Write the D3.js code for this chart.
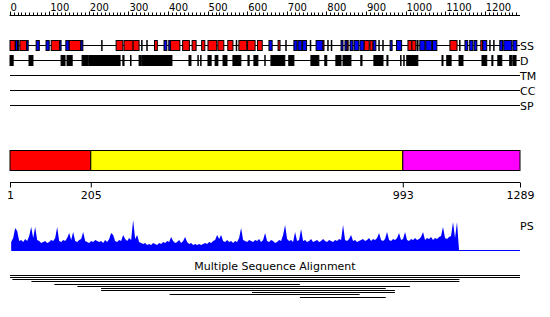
<!DOCTYPE html>
<html>
<head>
<meta charset="utf-8">
<script src="https://cdn.jsdelivr.net/npm/d3@7"></script>
<style>
  body { margin: 0; background: #fff; }
  text { font-family: "DejaVu Sans", sans-serif; fill: #000; }
</style>
</head>
<body>
<div id="chart"></div>
<script>
// sequence length and ruler labels
var seqLen = 1289;
var rulerLabels = [0, 100, 200, 300, 400, 500, 600, 700, 800, 900, 1000, 1100, 1200];

// secondary structure (residue ranges)
var ssHelix = [[1,14],[20,23],[26,43],[105,126],[150,180],[269,286],[289,312],[312,327],[366,373],
  [406,430],[437,454],[461,471],[485,493],[501,523],[526,541],[551,564],[579,599],[601,620],[626,638],
  [678,683],[791,794],[852,855],[895,908],[910,918],[1006,1016],[1016,1026],[1112,1130],[1190,1195]];
var ssStrand = [[15,20],[43,47],[67,75],[92,100],[126,130],[142,150],[180,185],[390,397],[402,406],
  [655,663],[718,726],[728,738],[740,750],[774,791],[837,842],[847,852],[860,867],[870,882],[885,895],
  [918,925],[961,966],[977,990],[1029,1031],[1036,1049],[1051,1066],[1068,1079],[1150,1157],[1162,1170],
  [1173,1180],[1195,1205],[1238,1245],[1248,1268],[1271,1281]];
var ssTicks = [233, 334, 347, 573, 698, 760, 804, 813, 933, 943, 1137, 1213, 1223];

// disorder
var disorder = [[1,9],[49,59],[130,135],[136,140],[145,158],[183,198],[200,279],[286,289],[327,332],
  [334,410],[453,458],[501,509],[519,526],[539,549],[564,584],[602,605],[617,627],[660,695],[705,718],
  [761,781],[796,801],[824,837],[842,862],[887,890],[920,943],[953,955],[1003,1031],[1092,1094],
  [1104,1115],[1135,1145],[1193,1205],[1218,1220],[1233,1243],[1263,1268],[1271,1279]];
var disorderTicks = [306, 476, 483, 645, 988, 996];

var trackNames = ["SS", "D", "TM", "CC", "SP"];

// domains
var domainStart = [1, 205, 993];
var domainEnd = [205, 993, 1289];
var domainTicks = [1, 205, 993, 1289];
var domainColors = ["#ff0000", "#ffff00", "#ff00ff"];

// PS profile, residues psFrom..psTo
var psFrom = 4, psTo = 1135;
var psValues = [8,12,22,19,9,10,8,11,9,14,23,12,23,10,9,7,8,9,7,8,10,9,12,23,9,8,10,9,12,17,
  10,18,9,8,10,11,18,9,8,7,9,8,10,9,8,9,7,10,8,11,17,15,9,8,10,9,15,11,9,12,
  10,30,11,15,8,7,6,7,5,6,5,7,6,5,7,6,8,7,9,8,13,9,7,8,10,7,9,13,8,6,
  7,5,6,5,6,5,6,7,6,8,7,9,10,15,11,15,9,8,10,8,9,7,9,8,12,22,10,9,8,10,
  9,8,10,9,11,8,10,17,9,8,10,9,7,8,10,9,15,25,11,9,10,8,18,9,10,21,9,10,8,9,
  11,8,9,10,8,9,11,9,8,10,9,8,10,9,11,10,25,10,9,11,15,9,10,8,9,10,11,9,10,12,
  9,11,10,12,17,10,9,11,18,10,9,11,10,12,17,10,11,18,10,9,11,10,12,10,11,13,18,10,12,11,
  13,10,12,11,13,14,23,12,11,13,14,28,12,28,0];

// multiple sequence alignment
var msaStart = [1, 1, 7, 55, 113, 171, 231, 231, 612, 404, 733];
var msaEnd = [1289, 1289, 1136, 1136, 733, 1011, 950, 973, 973, 884, 950];

var w = 550, h = 317;

var svg = d3.select("#chart")
  .append("svg")
  .attr("width", w)
  .attr("height", h);

var x = d3.scaleLinear()
  .domain([1, seqLen])
  .range([10, 520]);

// ruler
var ruler = svg.append("g").attr("transform", "translate(0,15.5)");
ruler.append("line")
  .attr("x1", x(0)).attr("x2", x(seqLen))
  .attr("stroke", "black");
ruler.selectAll("line.tk")
  .data(d3.range(0, seqLen, 10))
  .enter()
  .append("line")
  .attr("class", "tk")
  .attr("x1", function(d){ return Math.round(x(d)) + 0.5; })
  .attr("x2", function(d){ return Math.round(x(d)) + 0.5; })
  .attr("y1", function(d){ return d % 100 == 0 ? -4 : -3; })
  .attr("y2", 0)
  .attr("stroke", "black");
ruler.selectAll("text")
  .data(rulerLabels)
  .enter()
  .append("text")
  .attr("x", function(d){ return x(d) + 1; })
  .attr("y", -4.5)
  .style("font-size", "10px")
  .text(function(d){ return d; });

// track lines
var trackY = [45.5, 60.5, 75.5, 90.5, 105.5];
svg.selectAll("line.track")
  .data(trackNames)
  .enter()
  .append("line")
  .attr("class", "track")
  .attr("x1", x(1)).attr("x2", x(seqLen))
  .attr("y1", function(d, i){ return trackY[i]; })
  .attr("y2", function(d, i){ return trackY[i]; })
  .attr("stroke", "black");
svg.selectAll("text.track")
  .data(trackNames)
  .enter()
  .append("text")
  .attr("class", "track")
  .attr("x", 520)
  .attr("y", function(d, i){ return trackY[i] + 4; })
  .style("font-size", "11px")
  .text(function(d){ return d; });

// boxes for SS and disorder
function boxes(data, y0, ht, fill) {
  svg.append("g").selectAll("rect")
    .data(data)
    .enter()
    .append("rect")
    .attr("x", function(d){ return x(d[0]); })
    .attr("y", y0)
    .attr("width", function(d){ return Math.max(1, x(d[1]) - x(d[0])); })
    .attr("height", ht)
    .attr("fill", fill)
    .attr("stroke", "black")
    .attr("stroke-width", 1);
}
function ticks(data, y0, ht) {
  svg.append("g").selectAll("rect")
    .data(data)
    .enter()
    .append("rect")
    .attr("x", function(d){ return x(d) - 0.75; })
    .attr("y", y0 - 0.5)
    .attr("width", 1.5)
    .attr("height", ht + 1)
    .attr("fill", "black");
}
boxes(ssHelix, 40.5, 10, "#ff0000");
boxes(ssStrand, 40.5, 10, "#0000ff");
ticks(ssTicks, 40.5, 10);
boxes(disorder, 55.5, 10, "black");
ticks(disorderTicks, 55.5, 10);

// domains
svg.append("g").selectAll("rect")
  .data(domainStart)
  .enter()
  .append("rect")
  .attr("x", function(d){ return x(d); })
  .attr("y", 150.5)
  .attr("width", function(d, i){ return x(domainEnd[i]) - x(d); })
  .attr("height", 20)
  .attr("fill", function(d, i){ return domainColors[i]; })
  .attr("stroke", "black");

var dAxis = d3.axisBottom(x)
  .tickValues(domainTicks)
  .tickSize(5)
  .tickSizeOuter(0)
  .tickFormat(d3.format("d"));
svg.append("g")
  .attr("transform", "translate(0,182.5)")
  .call(dAxis)
  .call(function(g){
    g.select(".domain").attr("d", "M" + x(1) + ",0H" + x(seqLen));
    g.selectAll("text")
      .attr("y", 9)
      .style("font-family", "DejaVu Sans, sans-serif")
      .style("font-size", "11px");
  });

// PS profile
var ps = d3.scaleLinear().domain([0, 30]).range([250, 220]);
var psX = d3.scaleLinear().domain([0, psValues.length - 1]).range([psFrom, psTo]);
var area = d3.area()
  .x(function(d, i){ return x(psX(i)); })
  .y0(250)
  .y1(function(d){ return ps(d); });
svg.append("path")
  .datum(psValues)
  .attr("d", area)
  .attr("fill", "#0000ff");
svg.append("line")
  .attr("x1", x(psFrom)).attr("x2", x(seqLen))
  .attr("y1", 250.5).attr("y2", 250.5)
  .attr("stroke", "#0000ff");
svg.append("text")
  .attr("x", 520)
  .attr("y", 230)
  .style("font-size", "11px")
  .text("PS");

// alignment
svg.append("text")
  .attr("x", 275)
  .attr("y", 270)
  .attr("text-anchor", "middle")
  .style("font-size", "11px")
  .text("Multiple Sequence Alignment");
svg.append("g").selectAll("rect")
  .data(msaStart)
  .enter()
  .append("rect")
  .attr("x", function(d){ return x(d); })
  .attr("width", function(d, i){ return x(msaEnd[i]) - x(d); })
  .attr("y", function(d, i){ return Math.round(275 + i * 2.15); })
  .attr("height", 1)
  .attr("fill", "black");
</script>
</body>
</html>
